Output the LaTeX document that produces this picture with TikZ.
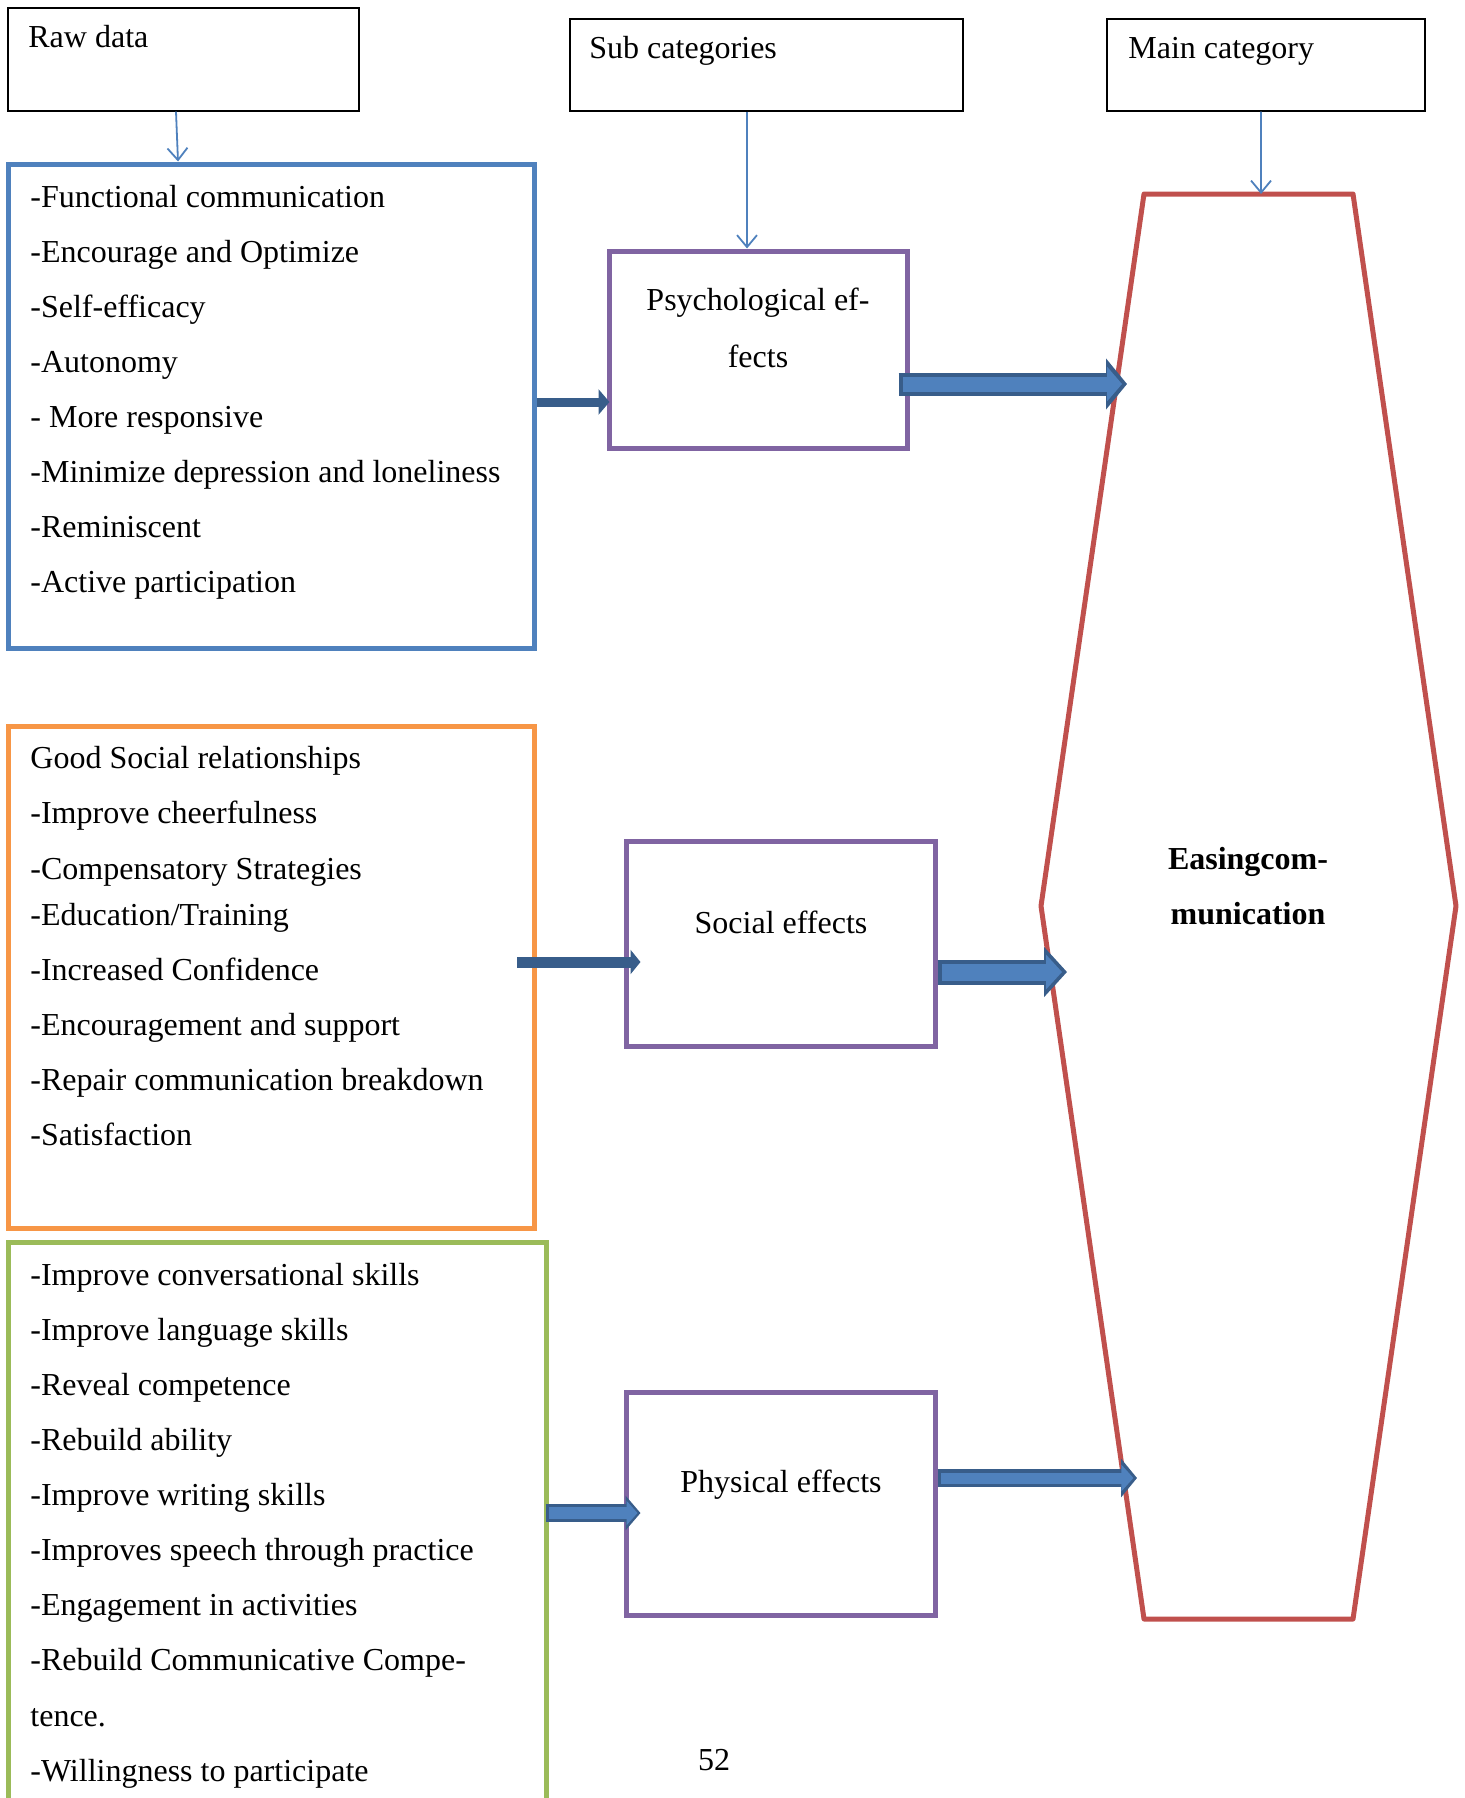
\documentclass[tikz,border=0pt]{standalone}
\usepackage{fontspec}
\setmainfont{Liberation Serif}
\usetikzlibrary{arrows.meta,calc,fit}
\definecolor{cblue}{HTML}{4F81BD}
\definecolor{corange}{HTML}{F79646}
\definecolor{cgreen}{HTML}{9BBB59}
\definecolor{cpurple}{HTML}{8064A2}
\definecolor{cred}{HTML}{C0504D}
\definecolor{cdark}{HTML}{385D8A}
\begin{document}
\begin{tikzpicture}[x=0.5pt,y=-0.5pt,
  hdrbox/.style={draw=black, line width=0.7pt, inner sep=0pt},
  colbox/.style={draw=#1, line width=2.5pt, inner sep=0pt},
  txt/.style={anchor=base west, inner sep=0pt, font=\fontsize{16pt}{19pt}\selectfont},
  ctxt/.style={anchor=base, inner sep=0pt, font=\fontsize{16pt}{19pt}\selectfont},
  thinarrow/.style={draw=cblue, line width=0.9pt, -{Straight Barb[length=6pt,width=10pt]}},
  blockout/.style n args={3}{draw=cdark, line width=#1, -{Triangle[length=#3,width=#2]}},
  blockin/.style n args={3}{draw=cblue, line width=#1, -{Triangle[length=#3,width=#2]}}
]
\useasboundingbox (0,0) rectangle (1464,1798);

% header boxes
\node[hdrbox, fit={(8,8) (359,111)}] (raw) {};
\node[hdrbox, fit={(570,19) (963,111)}] (sub) {};
\node[hdrbox, fit={(1107,19) (1425,111)}] (main) {};
\node[txt] (rawt) at (28,48) {Raw data};
\node[txt] (subt) at (589,59) {Sub categories};
\node[txt] (maint) at (1128,59) {Main category};

% raw data boxes
\node[colbox=cblue, fit={(8,164) (534,648)}] (bluebox) {};
\node[colbox=corange, fit={(8,726) (534,1228)}] (orangebox) {};
\node[colbox=cgreen, fit={(8,1242) (546,1850)}] (greenbox) {};

\node[txt] (b1) at (30,207) {-Functional communication};
\node[txt] (b2) at (30,262) {-Encourage and Optimize};
\node[txt] (b3) at (30,317) {-Self-efficacy};
\node[txt] (b4) at (30,372) {-Autonomy};
\node[txt] (b5) at (30,427) {- More responsive};
\node[txt] (b6) at (30,482) {-Minimize depression and loneliness};
\node[txt] (b7) at (30,537) {-Reminiscent};
\node[txt] (b8) at (30,592) {-Active participation};

\node[txt] (o1) at (30,768) {Good Social relationships};
\node[txt] (o2) at (30,823) {-Improve cheerfulness};
\node[txt] (o3) at (30,879) {-Compensatory Strategies};
\node[txt] (o4) at (30,925) {-Education/Training};
\node[txt] (o5) at (30,980) {-Increased Confidence};
\node[txt] (o6) at (30,1035) {-Encouragement and support};
\node[txt] (o7) at (30,1090) {-Repair communication breakdown};
\node[txt] (o8) at (30,1145) {-Satisfaction};

\node[txt] (g1) at (30,1285) {-Improve conversational skills};
\node[txt] (g2) at (30,1340) {-Improve language skills};
\node[txt] (g3) at (30,1395) {-Reveal competence};
\node[txt] (g4) at (30,1450) {-Rebuild ability};
\node[txt] (g5) at (30,1505) {-Improve writing skills};
\node[txt] (g6) at (30,1560) {-Improves speech through practice};
\node[txt] (g7) at (30,1615) {-Engagement in activities};
\node[txt] (g8) at (30,1670) {-Rebuild Communicative Compe-};
\node[txt] (g9) at (30,1726) {tence.};
\node[txt] (g10) at (30,1781) {-Willingness to participate};

% sub category boxes
\node[colbox=cpurple, fit={(609,251) (907,448)}] (psych) {};
\node[colbox=cpurple, fit={(626,841) (935,1046)}] (social) {};
\node[colbox=cpurple, fit={(626,1392) (935,1615)}] (phys) {};
\node[ctxt] (psycht1) at (758,310) {Psychological ef-};
\node[ctxt] (psycht2) at (758,367) {fects};
\node[ctxt] (socialt) at (781,933) {Social effects};
\node[ctxt] (physt) at (781,1492) {Physical effects};

% main category hexagon
\coordinate (h1) at (1144,194);
\coordinate (h2) at (1353,194);
\coordinate (h3) at (1456,906);
\coordinate (h4) at (1353,1619);
\coordinate (h5) at (1144,1619);
\coordinate (h6) at (1041,906);
\draw[cred, line width=2.5pt, line join=round] (h1) -- (h2) -- (h3) -- (h4) -- (h5) -- (h6) -- cycle;
\node[ctxt, font=\fontsize{16pt}{19pt}\selectfont\bfseries] (hext1) at (1248,869) {Easingcom-};
\node[ctxt, font=\fontsize{16pt}{19pt}\selectfont\bfseries] (hext2) at (1248,924) {munication};

% page number
\node[ctxt] (pnum) at (714,1770) {52};

% thin arrows
\draw[thinarrow] ($(raw.south)+(-7.5,0)$) -- ($(bluebox.north)+(-93,0)$);
\draw[thinarrow] ($(sub.south)+(-19.5,0)$) -- ($(psych.north)+(-11,0)$);
\draw[thinarrow] ($(main.south)+(-5,0)$) -- ($(h1)!0.56!(h2)$);

% block arrows
\coordinate (y1) at (0,402);
\coordinate (y2) at (0,384);
\coordinate (y3) at (0,962);
\coordinate (y4) at (0,972);
\coordinate (y5) at (0,1513);
\coordinate (y6) at (0,1478);
\coordinate (e2) at (1127,384);
\coordinate (e4) at (1067,972);
\coordinate (e6) at (1137,1478);
\coordinate (s3) at (517,962);

\draw[blockout={4.5pt}{12.5pt}{5.5pt}] (bluebox.east |- y1) -- ($(psych.west |- y1)+(3,0)$);
\draw[blockout={5.5pt}{12pt}{5pt}] (s3) -- ($(social.west |- y3)+(17,0)$);

\draw[blockout={11.5pt}{25pt}{10.5pt}] ($(psych.east |- y2)+(-11,0)$) -- (e2);
\draw[blockin={7.5pt}{17pt}{7.5pt}, shorten <=2pt, shorten >=2.5pt] ($(psych.east |- y2)+(-11,0)$) -- (e2);

\draw[blockout={12.5pt}{24.5pt}{11.5pt}] (social.east |- y4) -- (e4);
\draw[blockin={8.5pt}{17pt}{8pt}, shorten <=2pt, shorten >=2.5pt] (social.east |- y4) -- (e4);

\draw[blockout={9pt}{17pt}{7.5pt}] ($(greenbox.east |- y5)+(-3,0)$) -- ($(phys.west |- y5)+(17,0)$);
\draw[blockin={6pt}{12pt}{5.5pt}, shorten <=1.5pt, shorten >=1.5pt] ($(greenbox.east |- y5)+(-3,0)$) -- ($(phys.west |- y5)+(17,0)$);

\draw[blockout={9pt}{19pt}{8pt}] (phys.east |- y6) -- (e6);
\draw[blockin={5.5pt}{13pt}{6pt}, shorten <=1.8pt, shorten >=1.8pt] (phys.east |- y6) -- (e6);
\end{tikzpicture}
\end{document}
